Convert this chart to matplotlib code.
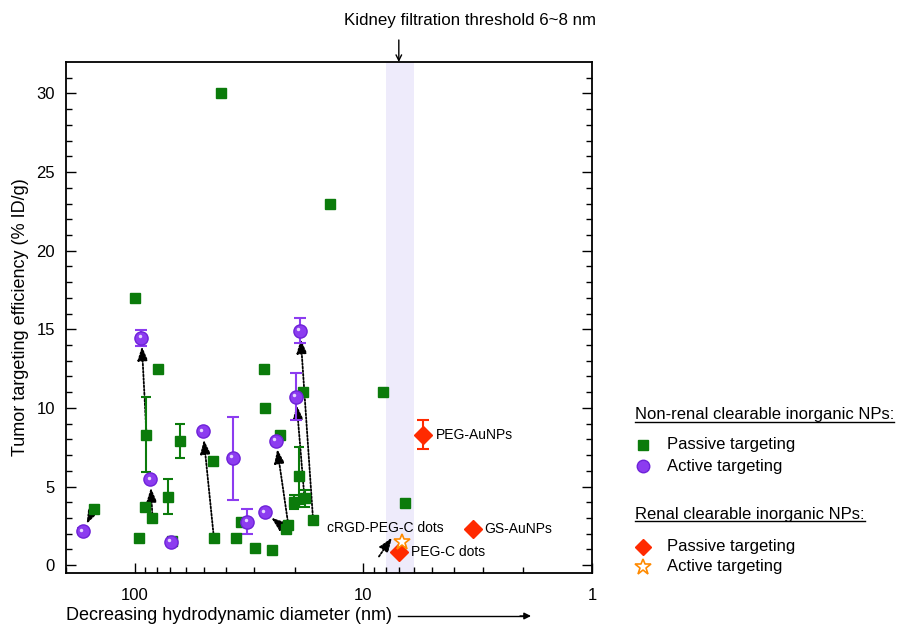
import numpy as np
import matplotlib
matplotlib.use('Agg')
import matplotlib.pyplot as plt
from matplotlib.lines import Line2D
from matplotlib import transforms

plt.rcParams['font.family'] = ['Liberation Sans', 'DejaVu Sans']

# Nao-renal, alvo passivo (quadrados verdes)
passive_x = [150.7, 100.3, 96.3, 90.0, 88.9, 83.7, 79.3, 71.5, 69.1, 63.7,
             45.4, 45.1, 42.0, 36.2, 34.4, 29.9, 27.1, 27.0, 25.1, 23.2,
             21.9, 21.3, 20.2, 19.1, 18.3, 18.1, 16.6, 14.0, 8.2, 6.6]
passive_y = [3.6, 17.0, 1.7, 3.7, 8.3, 3.0, 12.5, 4.35, 1.55, 7.9,
             6.6, 1.75, 30.0, 1.75, 2.75, 1.1, 12.5, 10.0, 0.95, 8.3,
             2.3, 2.55, 4.0, 5.7, 11.0, 4.25, 2.85, 23.0, 11.0, 3.95]
passive_err = [0, 0, 0, 0, 2.4, 0.1, 0, 1.1, 0, 1.1,
               0, 0, 0, 0, 0, 0, 0, 0, 0, 0,
               0, 0, 0.45, 1.8, 0, 0.55, 0, 0, 0, 0]

# Nao-renal, alvo ativo (esferas roxas)
active_x = [168.6, 93.5, 85.4, 69.8, 50.3, 37.2, 32.2, 27.0, 24.1, 19.7, 18.9]
active_y = [2.15, 14.45, 5.45, 1.5, 8.5, 6.8, 2.75, 3.35, 7.9, 10.7, 14.9]
active_err = [0.2, 0.5, 0, 0, 0, 2.65, 0.8, 0, 0, 1.5, 0.8]

# Renal
renal_names = ['PEG-AuNPs', 'GS-AuNPs', 'PEG-C dots']
renal_x = [5.51, 3.31, 7.02]
renal_y = [8.3, 2.3, 0.85]
renal_err = [0.9, 0, 0]
renal_active_x = [6.8]
renal_active_y = [1.45]

# Setas passivo -> ativo (indices)
pairs = [(0, 0), (5, 2), (4, 1), (11, 4), (21, 8), (20, 7), (25, 9), (26, 10)]

green = '#0B7B0B'
purple = '#8C3CF0'
red = '#FF2A00'
orange = '#FF8A00'
seta = '-|>,head_length=0.6,head_width=0.22'

fig = plt.figure(figsize=(8.99, 6.25), dpi=100)
ax = fig.add_axes([66/899, 1-573/625, (592-66)/899, (573-62)/625])

ax.set_xscale('log')
ax.set_xlim(200, 1)
ax.set_ylim(-0.5, 32)

ax.axvspan(6, 8, color='#EEEBFB', zorder=0, lw=0)

for i, j in pairs:
    ax.annotate('', xy=(active_x[j], active_y[j]), xytext=(passive_x[i], passive_y[i]),
                arrowprops=dict(arrowstyle=seta, linestyle=(0, (1, 1)), color='black',
                                lw=1.3, shrinkA=3, shrinkB=6, mutation_scale=14),
                zorder=2)

ax.errorbar(passive_x, passive_y, yerr=passive_err, fmt='s', color=green, ms=7.5,
            ecolor=green, elinewidth=1.5, capsize=3.5, capthick=1.5, zorder=3)
ax.errorbar(active_x, active_y, yerr=active_err, fmt='none', ecolor=purple,
            elinewidth=1.5, capsize=4, capthick=1.5, zorder=3)
ax.plot(active_x, active_y, 'o', color=purple, mec='#6E22D8', ms=9.5, zorder=4)
hl = transforms.offset_copy(ax.transData, fig=fig, x=-1.3, y=1.3, units='points')
ax.plot(active_x, active_y, 'o', color='#E6D6FF', ms=2.5, mew=0, transform=hl, zorder=5)

ax.errorbar(renal_x, renal_y, yerr=renal_err, fmt='D', color=red, ms=9,
            ecolor=red, elinewidth=1.5, capsize=4, capthick=1.5, zorder=4)
ax.plot(renal_active_x, renal_active_y, '*', ms=12, mfc='white', mec=orange,
        mew=1.2, zorder=5)

ax.text(4.82, renal_y[0], renal_names[0], fontsize=10, va='center', ha='left')
ax.text(2.97, renal_y[1], renal_names[1], fontsize=10, va='center', ha='left')
ax.text(6.2, renal_y[2], renal_names[2], fontsize=10, va='center', ha='left')
ax.text(4.44, 2.35, 'cRGD-PEG-C dots', fontsize=10, va='center', ha='right')
ax.annotate('', xy=(7.5, 1.75), xytext=(8.55, 0.55),
            arrowprops=dict(arrowstyle=seta, linestyle=(0, (1, 1)), color='black',
                            lw=1.3, shrinkA=0, shrinkB=0, mutation_scale=14))

ax.annotate('', xy=(7.0, 32), xytext=(7.0, 33.4), annotation_clip=False,
            arrowprops=dict(arrowstyle='->', color='black', lw=1, shrinkA=0, shrinkB=0))
fig.text(470/899, 1-21/625, 'Kidney filtration threshold 6~8 nm', fontsize=12.2,
         ha='center', va='center')

ax.set_yticks([0, 5, 10, 15, 20, 25, 30])
ax.set_yticks(np.arange(0, 32, 1), minor=True)
ax.set_xticks([100, 10, 1])
ax.set_xticklabels(['100', '10', '1'])
ax.tick_params(which='both', direction='in', top=False, right=True, labelsize=12, width=1)
ax.tick_params(which='major', length=7)
ax.tick_params(axis='x', which='major', pad=11)
ax.tick_params(axis='y', which='major', pad=8)
ax.tick_params(which='minor', length=4)
for s in ax.spines.values():
    s.set_linewidth(1.3)

ax.set_ylabel('Tumor targeting efficiency (% ID/g)', fontsize=13, labelpad=5.5)
fig.text(66/899, 1-620.5/625, 'Decreasing hydrodynamic diameter (nm)', fontsize=13,
         ha='left', va='baseline')
fig.add_artist(plt.Line2D([398/899, 525/899], [1-616/625, 1-616/625], color='black', lw=1))
ax.annotate('', xy=(531/899, 1-616/625), xytext=(520/899, 1-616/625),
            xycoords='figure fraction', textcoords='figure fraction',
            arrowprops=dict(arrowstyle='-|>', color='black', lw=1, mutation_scale=10,
                            shrinkA=0, shrinkB=0))

# Legenda feita a mao
heads = []
heads.append(fig.text(635/899, 1-415/625, 'Non-renal clearable inorganic NPs:', fontsize=12, va='center'))
heads.append(fig.text(635/899, 1-514/625, 'Renal clearable inorganic NPs:', fontsize=12, va='center'))
items = [(445, dict(marker='s', color=green, ms=7)),
         (466, dict(marker='o', color=purple, mec='#6E22D8', ms=9)),
         (547, dict(marker='D', color=red, ms=8)),
         (567, dict(marker='*', mfc='white', mec=orange, mew=1.2, ms=12))]
for py, st in items:
    fig.add_artist(Line2D([643/899], [1-py/625], ls='none', transform=fig.transFigure, **st))
    fig.text(667/899, 1-py/625, 'Passive targeting' if st['marker'] in ('s', 'D') else 'Active targeting',
             fontsize=12, va='center')

fig.canvas.draw()
r = fig.canvas.get_renderer()
for t in heads:
    bb = t.get_window_extent(r)
    y = (bb.y0 + 1) / fig.bbox.height
    fig.add_artist(Line2D([bb.x0 / fig.bbox.width, bb.x1 / fig.bbox.width], [y, y],
                          color='black', lw=1))

fig.savefig('out.png', dpi=100)
